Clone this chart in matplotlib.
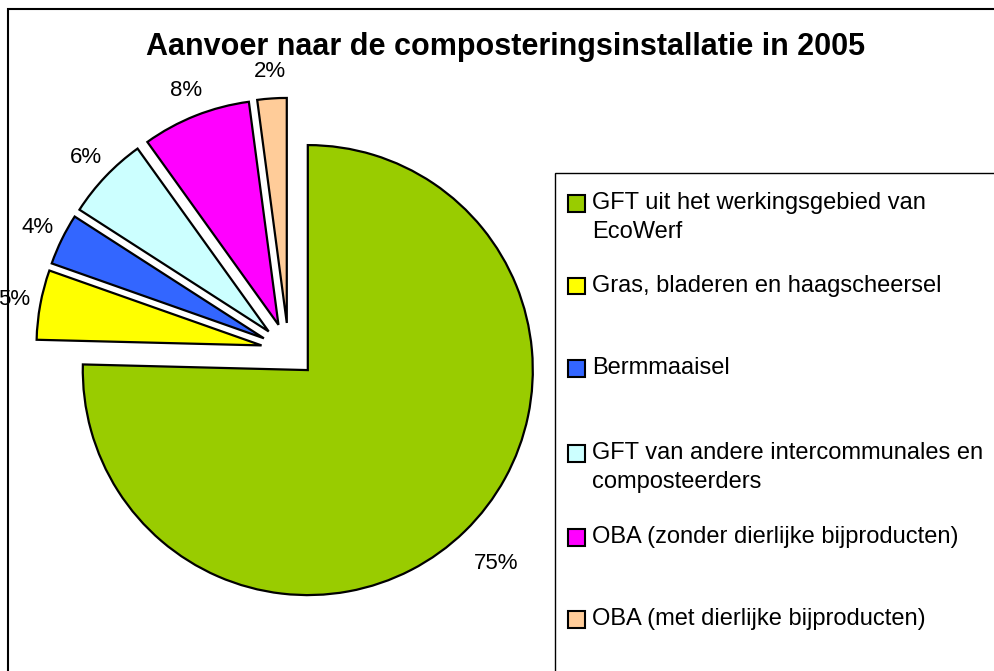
import numpy as np
import matplotlib.pyplot as plt
from matplotlib.patches import Rectangle

# data
categories = [
    "GFT uit het werkingsgebied van\nEcoWerf",
    "Gras, bladeren en haagscheersel",
    "Bermmaaisel",
    "GFT van andere intercommunales en\ncomposteerders",
    "OBA (zonder dierlijke bijproducten)",
    "OBA (met dierlijke bijproducten)",
]
shares = [75.4, 5.0, 3.7, 6.0, 7.8, 2.1]
colors = ["#99CC00", "#FFFF00", "#3366FF", "#CCFFFF", "#FF00FF", "#FFCC99"]
title = "Aanvoer naar de composteringsinstallatie in 2005"

W, H = 995, 671
FONT = "Liberation Sans"


def fx(x):
    return x / W


def fy(y):
    return 1 - y / H


fig = plt.figure(figsize=(W / 100, H / 100), dpi=100)

# pie in pixel-scaled units (radius = 1 -> 225 px)
R = 225.0
cx, cy = 288.6, 350.4
ax = fig.add_axes([0, 0, 1, 1])
wedges, texts, autotexts = ax.pie(
    shares,
    colors=colors,
    startangle=90,
    counterclock=False,
    explode=[27.5 / R] * len(shares),
    autopct="%.0f%%",
    pctdistance=1.12,
    wedgeprops=dict(edgecolor="black", linewidth=1.6),
    textprops=dict(fontsize=16, family=FONT, color="black"),
)
# the big slice's label sits a bit further out
w0 = wedges[0]
tm = np.deg2rad((w0.theta1 + w0.theta2) / 2)
autotexts[0].set_position((w0.center[0] + 1.2 * np.cos(tm),
                           w0.center[1] + 1.2 * np.sin(tm)))

ax.set_xlim(-cx / R, (W - cx) / R)
ax.set_ylim(-(H - cy) / R, cy / R)
ax.set_aspect("auto")
ax.axis("off")

# chart border (extends beyond the visible crop)
fig.add_artist(Rectangle((fx(8), fy(H + 20)), 1.2, (H + 20 - 9) / H,
                         transform=fig.transFigure, fill=False,
                         edgecolor="black", linewidth=1.5, clip_on=False))

fig.text(fx(506), fy(47), title, ha="center", va="center",
         fontsize=22, fontweight="bold", family=FONT)

# legend box
fig.add_artist(Rectangle((fx(555), fy(H + 20)), 1.0, (H + 20 - 173) / H,
                         transform=fig.transFigure, fill=False,
                         edgecolor="black", linewidth=1.0, clip_on=False))

item_y = [203, 286, 368, 453, 537, 619]
sq = 17
for label, col, y in zip(categories, colors, item_y):
    fig.add_artist(Rectangle((fx(568), fy(y + sq / 2)), sq / W, sq / H,
                             transform=fig.transFigure, facecolor=col,
                             edgecolor="black", linewidth=1.5))
    for i, line in enumerate(label.split("\n")):
        fig.text(fx(592), fy(y + i * 29), line, ha="left", va="center",
                 fontsize=17, family=FONT)

fig.savefig("out.png", dpi=100)
